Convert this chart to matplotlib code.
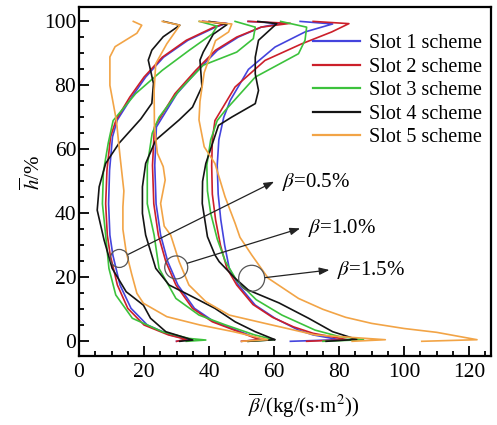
import matplotlib
matplotlib.use("Agg")
import matplotlib.pyplot as plt
from matplotlib.patches import Ellipse
from matplotlib.ticker import MultipleLocator

plt.rcParams['font.family'] = 'serif'
plt.rcParams['font.serif'] = ['Liberation Serif', 'DejaVu Serif']
plt.rcParams['mathtext.fontset'] = 'stix'

# ---------------- data (beta_bar, h_bar) ----------------
# beta = 0.5 %
s1_05_x = [30, 33.5, 28, 21, 16, 12.6, 10.4, 9.5, 9.1, 9.4, 10.3, 11.8, 16.2, 20.5, 26, 33.5, 42, 45.5, 38]
s1_05_h = [0, 0.6, 2, 5.1, 10.3, 17.6, 27, 33.2, 43, 53.5, 63.9, 69.2, 76.3, 82.6, 88.8, 94.1, 98.2, 99.4, 100]
s2_05_x = [30, 33, 27.5, 20, 15, 11.8, 9.6, 8.7, 8.2, 8.6, 9.7, 11.4, 15.6, 20, 25.6, 33, 41.5, 45, 38]
s2_05_h = [0, 0.6, 2, 5.1, 10.3, 17.6, 27, 33.2, 43, 53.5, 63.9, 69.2, 76.3, 82.6, 88.8, 94.1, 98.2, 99.4, 100]
s3_05_x = [33, 39, 33.8, 25.6, 16.4, 11.3, 9.2, 8.2, 7.2, 7.5, 9, 10.5, 17.4, 25.6, 33.8, 41, 42.5, 37]
s3_05_h = [0, 0.4, 0.9, 3, 7.2, 14.5, 22.8, 33.2, 43, 53, 62, 69, 77.4, 84.7, 90.9, 96.1, 98.5, 100]
s4_05_x = [31, 35, 26.7, 22, 19.8, 14.5, 10.2, 7.7, 5.6, 6.2, 8.2, 12.3, 19, 22.4, 22.9, 21.3, 22.4, 25.9, 31, 26]
s4_05_h = [0, 0.4, 3, 7.2, 11.3, 15.5, 22.8, 31.7, 41, 48.3, 55.6, 61.9, 69.5, 74.4, 80.6, 87.9, 91, 95.2, 98.8, 100]
s5_05_x = [50, 58, 47.5, 37.2, 27, 19.8, 17.8, 16.2, 14.5, 13.5, 13.5, 13.8, 12.6, 11.5, 9.5, 9.5, 11.1, 17.8, 19.3, 16.7]
s5_05_h = [0, 0.5, 3, 5.1, 7.7, 11.9, 15, 21, 28, 35, 42, 47, 58, 69, 80, 88.9, 92.1, 96.3, 98.8, 100]

# beta = 1.0 %
s1_10_x = [50, 56, 46.8, 41.6, 35.5, 30.4, 27.3, 25.1, 23.7, 23.3, 23.8, 30.1, 36.5, 42.6, 49, 56, 62, 52]
s1_10_h = [0, 0.5, 4.1, 6.1, 10.3, 17.6, 24.9, 33.2, 43, 55, 67, 77.4, 84.7, 91, 95.1, 98.2, 99.4, 100]
s2_10_x = [50, 55.5, 46.2, 41, 34.9, 29.8, 26.7, 24.4, 23, 22.6, 23.2, 29.5, 35.9, 42, 48.5, 56, 65, 52]
s2_10_h = [0, 0.5, 4.1, 6.1, 10.3, 17.6, 24.9, 33.2, 43, 55, 67, 77.4, 84.7, 91, 95.1, 98.2, 99.4, 100]
s3_10_x = [52, 60, 54, 45.1, 36.9, 29.8, 24.6, 23.1, 21, 21, 22.5, 24.6, 30.8, 38.2, 48.5, 53.6, 54.2, 48]
s3_10_h = [0, 0.5, 2, 5.1, 8.2, 13.4, 22.8, 33.2, 43, 55, 65, 70, 78.4, 86.3, 90.4, 94.6, 98.2, 100]
s4_10_x = [52, 60.3, 59.3, 54.2, 48, 41.8, 33.8, 27.7, 23.6, 20.5, 19.5, 19.5, 20.5, 23.6, 30.8, 34.9, 37.8, 37.2, 38.2, 41.3, 45.5, 40]
s4_10_h = [0, 0.5, 0.9, 3, 6.1, 10.3, 14.5, 17.6, 22.8, 33.2, 40, 48.3, 55.6, 62.9, 69.2, 73.2, 79.6, 87.9, 90.4, 96, 99, 100]
s5_10_x = [84, 94.2, 72.6, 57.2, 46.2, 39, 33.8, 30.8, 28.2, 26.2, 25.1, 26.5, 25.9, 24.1, 23.2, 23.1, 23.6, 27, 31, 25.6]
s5_10_h = [0, 0.5, 2, 5.6, 8.2, 12.4, 17.6, 24.9, 33.2, 36, 43.1, 50.4, 54.6, 58.8, 67, 78.4, 86.8, 93, 98.8, 100]

# beta = 1.5 %
s1_15_x = [65, 80, 72, 67.5, 60.3, 54.2, 49, 46.2, 44.8, 43.6, 42.8, 42.5, 43, 44.5, 46.5, 52.1, 60.3, 69.5, 78, 68]
s1_15_h = [0, 0.5, 2, 3.5, 7.2, 11.3, 17.6, 22.8, 30, 38, 46, 55, 63, 70, 75.3, 85, 92, 96.7, 99.2, 100]
s2_15_x = [70, 82.5, 72, 66, 59.5, 53.5, 48.5, 45.5, 43.5, 42, 41, 40.8, 41, 41.8, 48, 57.2, 68.5, 77.7, 83, 72]
s2_15_h = [0, 0.5, 2.5, 4.5, 7.5, 11.5, 17.6, 22.8, 30, 38, 46, 55, 63, 69, 79.5, 87.8, 93, 96.7, 99.3, 100]
s3_15_x = [75, 87.5, 80, 72.6, 62.4, 54.5, 48.5, 45, 42.5, 40.5, 39.5, 39.3, 40.5, 42.5, 45, 54.2, 67.5, 69.5, 70, 62]
s3_15_h = [0, 0.5, 1.5, 3.5, 8.2, 13, 19, 25, 32, 40, 47, 55, 63, 69, 72.2, 82.6, 89.9, 94.1, 98.2, 100]
s4_15_x = [76, 85.4, 78, 70.6, 61.5, 52.1, 48, 43.1, 41.8, 39.5, 37.9, 38, 39, 42.9, 47, 54.2, 55.2, 54.2, 54.2, 55.2, 60.8, 55]
s4_15_h = [0, 0.6, 3, 7.2, 12, 16, 19.7, 24.9, 27, 32.7, 43.1, 50, 55.6, 67.5, 70.1, 74.3, 78.4, 83.6, 88.8, 94.1, 99.3, 100]
s5_15_x = [105.4, 122.4, 110, 100, 90, 82, 75, 67.5, 58.2, 53.1, 49.5, 48, 44.9, 41.8, 38.5, 36.9, 37.2, 38.5, 42, 46, 47, 37]
s5_15_h = [0, 0.5, 2.8, 4.0, 5.6, 7.5, 10, 13.4, 19.7, 27, 32.5, 36.9, 45.2, 55.6, 60.8, 69.2, 75, 84, 94, 96.7, 99.2, 100]

labels = ['Slot 1 scheme', 'Slot 2 scheme', 'Slot 3 scheme', 'Slot 4 scheme', 'Slot 5 scheme']
colors = ['#4444dd', '#cc1f2a', '#3cc23c', '#141414', '#f2a446']

groups = [
    [(s1_05_x, s1_05_h), (s2_05_x, s2_05_h), (s3_05_x, s3_05_h), (s4_05_x, s4_05_h), (s5_05_x, s5_05_h)],
    [(s1_10_x, s1_10_h), (s2_10_x, s2_10_h), (s3_10_x, s3_10_h), (s4_10_x, s4_10_h), (s5_10_x, s5_10_h)],
    [(s1_15_x, s1_15_h), (s2_15_x, s2_15_h), (s3_15_x, s3_15_h), (s4_15_x, s4_15_h), (s5_15_x, s5_15_h)],
]

# annotation circles (centre beta, centre h, radius in px) and labels
circ_x = [12.4, 29.9, 53.1]
circ_h = [25.9, 23.1, 19.7]
circ_r = [9.0, 11.5, 13.0]
arrow_start_x = [15.2, 33.3, 57.2]
arrow_start_h = [27.2, 24.4, 19.9]
arrow_end_x = [60.0, 68.0, 77.0]
arrow_end_h = [49.9, 35.3, 22.3]
ann_labels = [r'$\beta$=0.5%', r'$\beta$=1.0%', r'$\beta$=1.5%']

fig = plt.figure(figsize=(4.97, 4.25), dpi=100)
ax = fig.add_axes([79/497, 1-355.7/425, (490.7-79)/497, (355.7-7)/425])

for gi, grp in enumerate(groups):
    for si, (xs, hs) in enumerate(grp):
        ax.plot(xs, hs, color=colors[si], lw=1.2, solid_joinstyle='round',
                label=labels[si] if gi == 0 else None, zorder=2 + si * 0.1)

ax.set_xlim(0, 126.6)
ax.set_ylim(-4.5, 104.5)

# circles (pixel-size radius converted to data units)
xs_per_px = 126.6 / (490.7 - 79)
hs_per_px = 109.0 / (355.7 - 7)
for cx, ch, r in zip(circ_x, circ_h, circ_r):
    ax.add_patch(Ellipse((cx, ch), 2 * r * xs_per_px, 2 * r * hs_per_px,
                         fill=False, ec='#555555', lw=0.9, zorder=5))
for sx, sh, ex, eh, lab in zip(arrow_start_x, arrow_start_h, arrow_end_x, arrow_end_h, ann_labels):
    ax.annotate('', xy=(ex, eh), xytext=(sx, sh),
                arrowprops=dict(arrowstyle='-|>,head_length=0.6,head_width=0.22',
                                color='#222222', lw=0.9, shrinkA=0, shrinkB=0), zorder=6)
    ax.text(ex + 2.3, eh, lab, fontsize=15, va='center', ha='left', zorder=6)

ax.xaxis.set_major_locator(MultipleLocator(20))
ax.xaxis.set_minor_locator(MultipleLocator(5))
ax.yaxis.set_major_locator(MultipleLocator(20))
ax.yaxis.set_minor_locator(MultipleLocator(5))
ax.tick_params(which='both', direction='in', top=False, right=False, width=1.3)
ax.tick_params(which='major', length=7, labelsize=15.5, pad=5)
ax.tick_params(which='minor', length=3.5)
ax.tick_params(axis='y', which='major', pad=2)
for sp in ax.spines.values():
    sp.set_linewidth(1.6)

leg = ax.legend(loc='upper left', bbox_to_anchor=(313/497, 1-34/425),
                bbox_transform=fig.transFigure, frameon=False, fontsize=14.5,
                handlelength=2.35, handletextpad=0.45, labelspacing=0.22,
                borderpad=0, borderaxespad=0)
for lh in leg.get_lines():
    lh.set_linewidth(1.6)

fig.text(33/497, 1-173/425, r'$\overline{h}$/%', rotation=90, fontsize=15,
         ha='center', va='center')
fig.text(304/497, 1-406/425, r'$\overline{\beta}$/(kg/(s$\cdot$m$^2$))', fontsize=15,
         ha='center', va='center')

fig.savefig('out.png', dpi=100)
